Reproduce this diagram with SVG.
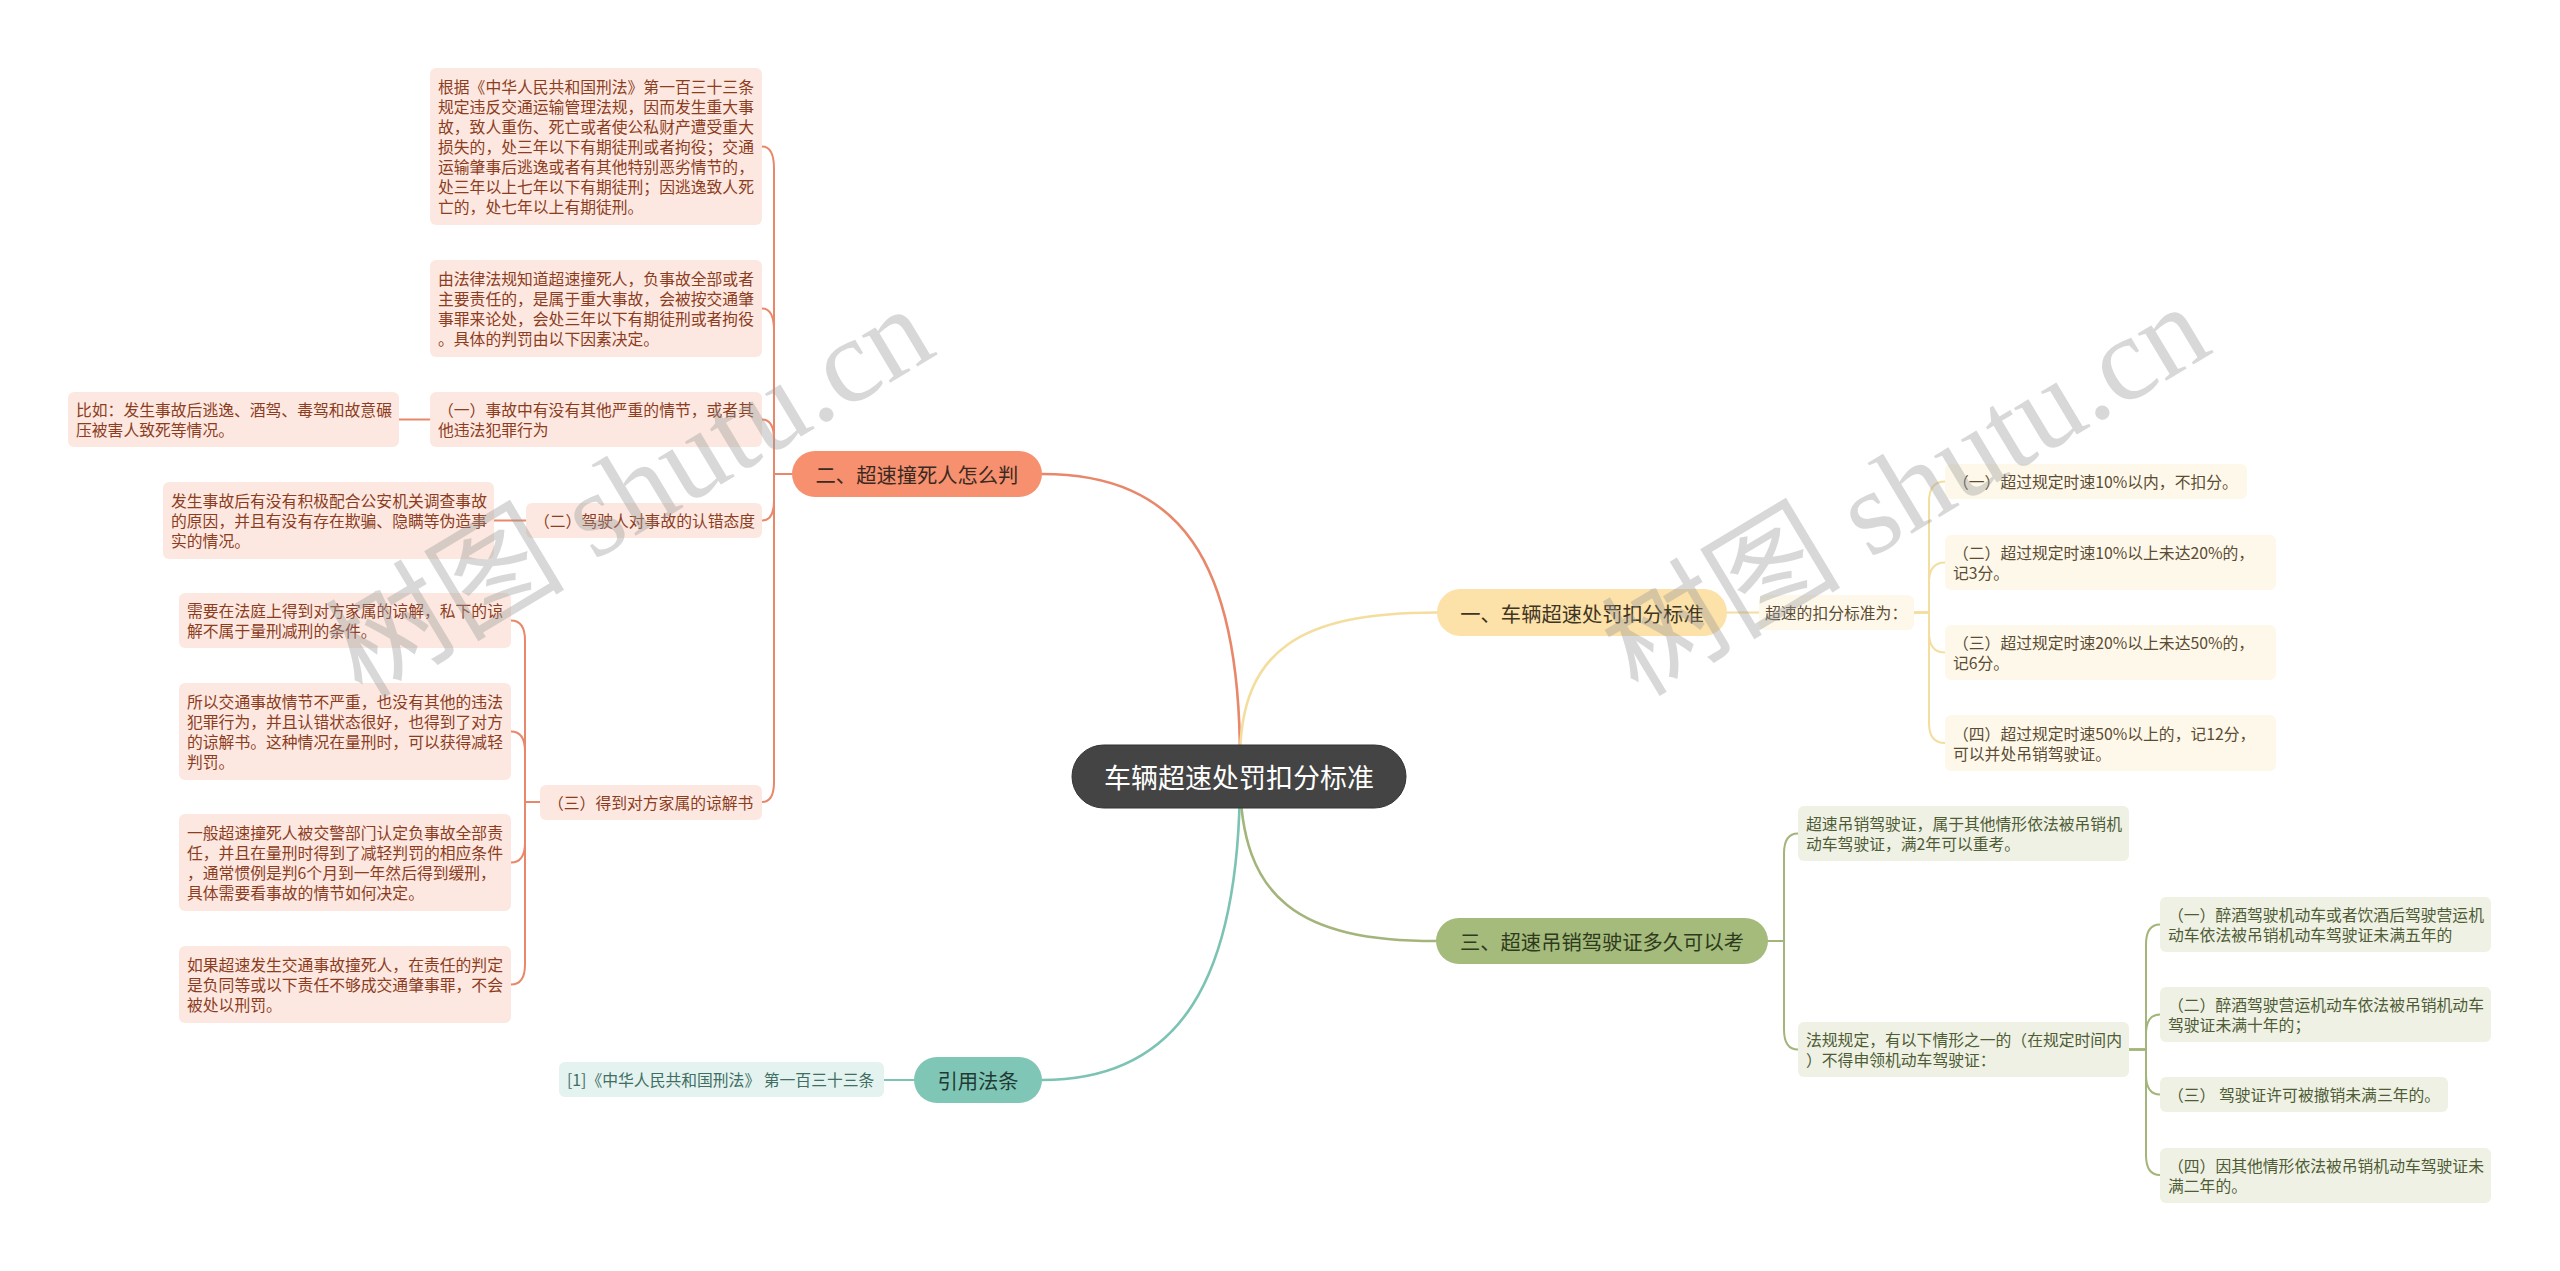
<svg xmlns="http://www.w3.org/2000/svg" width="2560" height="1271" viewBox="0 0 2560 1271">
<style>
text{font-family:"Noto Sans CJK SC","Noto Sans",sans-serif;dominant-baseline:central}
.t{font-size:15.8px}
.b{font-size:20.3px}
.red rect{fill:#FCE8E0}.red text{fill:#8C3D1F}
.yel rect{fill:#FEF8EA}.yel text{fill:#5B4C33}
.grn rect{fill:#EEF1E3}.grn text{fill:#4F5C36}
.tea rect{fill:#E4F3EF}.tea text{fill:#3F6E64}
.con{fill:none;stroke-linecap:round;stroke-linejoin:round}
.cr{stroke:#E8876A}.cy{stroke:#F4DE9F}.cg{stroke:#A3B57A}.ct{stroke:#7CC3B3}
.main{stroke-width:2.6}.sub{stroke-width:2}
.wm{font-family:"Liberation Serif","Noto Sans CJK SC",serif;font-size:120px;fill:#9a9a9a;opacity:0.38}
</style>
<rect width="2560" height="1271" fill="#ffffff"/>
<g id="connectors">
<path class="con cr main" d="M1240,760 C1240,560 1180,474 1042,474"/>
<path class="con cy main" d="M1240,760 C1240,650 1300,612.5 1437,612.5"/>
<path class="con cg main" d="M1240,776 C1240,900 1300,941 1436,941"/>
<path class="con ct main" d="M1240,776 C1240,980 1180,1080 1042,1080"/>
<path class="con cr sub" d="M792,474 H774 V168.5 Q774,146.5 762,146.5"/>
<path class="con cr sub" d="M792,474 H774 V330.5 Q774,308.5 762,308.5"/>
<path class="con cr sub" d="M792,474 H774 V439.5 Q774,419.5 762,419.5"/>
<path class="con cr sub" d="M792,474 H774 V500.5 Q774,520.5 762,520.5"/>
<path class="con cr sub" d="M792,474 H774 V782 Q774,802 762,802"/>
<path class="con cr sub" d="M399,419.5 H430"/>
<path class="con cr sub" d="M494,520.5 H526"/>
<path class="con cr sub" d="M540,802 H525 V640.5 Q525,620.5 511,620.5"/>
<path class="con cr sub" d="M540,802 H525 V751.5 Q525,731.5 511,731.5"/>
<path class="con cr sub" d="M540,802 H525 V842.5 Q525,862.5 511,862.5"/>
<path class="con cr sub" d="M540,802 H525 V964.5 Q525,984.5 511,984.5"/>
<path class="con ct sub" d="M884,1080 H914"/>
<path class="con cy sub" d="M1727,612.5 H1759"/>
<path class="con cy sub" d="M1914,612.5 H1929 V501.5 Q1929,481.5 1945,481.5"/>
<path class="con cy sub" d="M1914,612.5 H1929 V582.5 Q1929,562.5 1945,562.5"/>
<path class="con cy sub" d="M1914,612.5 H1929 V632.5 Q1929,652.5 1945,652.5"/>
<path class="con cy sub" d="M1914,612.5 H1929 V723 Q1929,743 1945,743"/>
<path class="con cg sub" d="M1768,941 H1784 V853.5 Q1784,833.5 1798,833.5"/>
<path class="con cg sub" d="M1768,941 H1784 V1029.5 Q1784,1049.5 1798,1049.5"/>
<path class="con cg sub" d="M2129,1049.5 H2146 V944.5 Q2146,924.5 2160,924.5"/>
<path class="con cg sub" d="M2129,1049.5 H2146 V1034.5 Q2146,1014.5 2160,1014.5"/>
<path class="con cg sub" d="M2129,1049.5 H2146 V1074.5 Q2146,1094.5 2160,1094.5"/>
<path class="con cg sub" d="M2129,1049.5 H2146 V1155 Q2146,1175 2160,1175"/>
</g>
<g id="center">
<rect x="1072" y="745" width="334" height="63" rx="31.5" fill="#444444" stroke="#333333" stroke-width="1"/>
<text x="1239" y="776.5" text-anchor="middle" font-size="27" fill="#ffffff">车辆超速处罚扣分标准</text>
</g>
<g id="b2">
<rect x="792" y="451" width="250" height="46" rx="23" fill="#F7906F"/>
<text class="b" x="917" y="474" text-anchor="middle" fill="#3A2A22">二、超速撞死人怎么判</text>
</g>
<g id="b1">
<rect x="1437" y="589" width="290" height="47" rx="23.5" fill="#FCE1A8"/>
<text class="b" x="1582" y="612.5" text-anchor="middle" fill="#3F3524">一、车辆超速处罚扣分标准</text>
</g>
<g id="b3">
<rect x="1436" y="918" width="332" height="46" rx="23" fill="#A4BB7C"/>
<text class="b" x="1602" y="941" text-anchor="middle" fill="#2F3A1C">三、超速吊销驾驶证多久可以考</text>
</g>
<g id="b4">
<rect x="914" y="1057" width="128" height="46" rx="23" fill="#7FC6B6"/>
<text class="b" x="978" y="1080" text-anchor="middle" fill="#1F3A33">引用法条</text>
</g>
<g id="nA" class="red">
<rect x="430" y="68" width="332" height="157" rx="6"/>
<text class="t" x="438" y="86.5">根据《中华人民共和国刑法》第一百三十三条</text>
<text class="t" x="438" y="106.5">规定违反交通运输管理法规，因而发生重大事</text>
<text class="t" x="438" y="126.5">故，致人重伤、死亡或者使公私财产遭受重大</text>
<text class="t" x="438" y="146.5">损失的，处三年以下有期徒刑或者拘役；交通</text>
<text class="t" x="438" y="166.5">运输肇事后逃逸或者有其他特别恶劣情节的，</text>
<text class="t" x="438" y="186.5">处三年以上七年以下有期徒刑；因逃逸致人死</text>
<text class="t" x="438" y="206.5">亡的，处七年以上有期徒刑。</text>
</g>
<g id="nB" class="red">
<rect x="430" y="260" width="332" height="97" rx="6"/>
<text class="t" x="438" y="278.5">由法律法规知道超速撞死人，负事故全部或者</text>
<text class="t" x="438" y="298.5">主要责任的，是属于重大事故，会被按交通肇</text>
<text class="t" x="438" y="318.5">事罪来论处，会处三年以下有期徒刑或者拘役</text>
<text class="t" x="438" y="338.5">。具体的判罚由以下因素决定。</text>
</g>
<g id="nC" class="red">
<rect x="68" y="392" width="331" height="55" rx="6"/>
<text class="t" x="76" y="409.5">比如：发生事故后逃逸、酒驾、毒驾和故意碾</text>
<text class="t" x="76" y="429.5">压被害人致死等情况。</text>
</g>
<g id="nD" class="red">
<rect x="430" y="392" width="332" height="55" rx="6"/>
<text class="t" x="438" y="409.5">（一）事故中有没有其他严重的情节，或者其</text>
<text class="t" x="438" y="429.5">他违法犯罪行为</text>
</g>
<g id="nE" class="red">
<rect x="526" y="503" width="236" height="35" rx="6"/>
<text class="t" x="534" y="520.5">（二）驾驶人对事故的认错态度</text>
</g>
<g id="nF" class="red">
<rect x="163" y="482" width="331" height="77" rx="6"/>
<text class="t" x="171" y="500.5">发生事故后有没有积极配合公安机关调查事故</text>
<text class="t" x="171" y="520.5">的原因，并且有没有存在欺骗、隐瞒等伪造事</text>
<text class="t" x="171" y="540.5">实的情况。</text>
</g>
<g id="nG" class="red">
<rect x="540" y="785" width="222" height="35" rx="6"/>
<text class="t" x="548" y="802.5">（三）得到对方家属的谅解书</text>
</g>
<g id="nH1" class="red">
<rect x="179" y="593" width="332" height="55" rx="6"/>
<text class="t" x="187" y="610.5">需要在法庭上得到对方家属的谅解，私下的谅</text>
<text class="t" x="187" y="630.5">解不属于量刑减刑的条件。</text>
</g>
<g id="nH2" class="red">
<rect x="179" y="683" width="332" height="97" rx="6"/>
<text class="t" x="187" y="701.5">所以交通事故情节不严重，也没有其他的违法</text>
<text class="t" x="187" y="721.5">犯罪行为，并且认错状态很好，也得到了对方</text>
<text class="t" x="187" y="741.5">的谅解书。这种情况在量刑时，可以获得减轻</text>
<text class="t" x="187" y="761.5">判罚。</text>
</g>
<g id="nH3" class="red">
<rect x="179" y="814" width="332" height="97" rx="6"/>
<text class="t" x="187" y="832.5">一般超速撞死人被交警部门认定负事故全部责</text>
<text class="t" x="187" y="852.5">任，并且在量刑时得到了减轻判罚的相应条件</text>
<text class="t" x="187" y="872.5">，通常惯例是判6个月到一年然后得到缓刑，</text>
<text class="t" x="187" y="892.5">具体需要看事故的情节如何决定。</text>
</g>
<g id="nH4" class="red">
<rect x="179" y="946" width="332" height="77" rx="6"/>
<text class="t" x="187" y="964.5">如果超速发生交通事故撞死人，在责任的判定</text>
<text class="t" x="187" y="984.5">是负同等或以下责任不够成交通肇事罪，不会</text>
<text class="t" x="187" y="1004.5">被处以刑罚。</text>
</g>
<g id="nCite" class="tea">
<rect x="559" y="1062" width="325" height="35" rx="6"/>
<text class="t" x="567" y="1079.5">[1]《中华人民共和国刑法》 第一百三十三条</text>
</g>
<g id="nK" class="yel">
<rect x="1759" y="595" width="155" height="35" rx="6"/>
<text class="t" x="1765" y="612.5">超速的扣分标准为：</text>
</g>
<g id="nL1" class="yel">
<rect x="1945" y="464" width="302" height="35" rx="6"/>
<text class="t" x="1953" y="481.5">（一）超过规定时速10%以内，不扣分。</text>
</g>
<g id="nL2" class="yel">
<rect x="1945" y="535" width="331" height="55" rx="6"/>
<text class="t" x="1953" y="552.5">（二）超过规定时速10%以上未达20%的，</text>
<text class="t" x="1953" y="572.5">记3分。</text>
</g>
<g id="nL3" class="yel">
<rect x="1945" y="625" width="331" height="55" rx="6"/>
<text class="t" x="1953" y="642.5">（三）超过规定时速20%以上未达50%的，</text>
<text class="t" x="1953" y="662.5">记6分。</text>
</g>
<g id="nL4" class="yel">
<rect x="1945" y="715" width="331" height="56" rx="6"/>
<text class="t" x="1953" y="733">（四）超过规定时速50%以上的，记12分，</text>
<text class="t" x="1953" y="753">可以并处吊销驾驶证。</text>
</g>
<g id="nM1" class="grn">
<rect x="1798" y="806" width="331" height="55" rx="6"/>
<text class="t" x="1806" y="823.5">超速吊销驾驶证，属于其他情形依法被吊销机</text>
<text class="t" x="1806" y="843.5">动车驾驶证，满2年可以重考。</text>
</g>
<g id="nM2" class="grn">
<rect x="1798" y="1022" width="331" height="55" rx="6"/>
<text class="t" x="1806" y="1039.5">法规规定，有以下情形之一的（在规定时间内</text>
<text class="t" x="1806" y="1059.5">）不得申领机动车驾驶证：</text>
</g>
<g id="nN1" class="grn">
<rect x="2160" y="897" width="331" height="55" rx="6"/>
<text class="t" x="2168" y="914.5">（一）醉酒驾驶机动车或者饮酒后驾驶营运机</text>
<text class="t" x="2168" y="934.5">动车依法被吊销机动车驾驶证未满五年的</text>
</g>
<g id="nN2" class="grn">
<rect x="2160" y="987" width="331" height="55" rx="6"/>
<text class="t" x="2168" y="1004.5">（二）醉酒驾驶营运机动车依法被吊销机动车</text>
<text class="t" x="2168" y="1024.5">驾驶证未满十年的；</text>
</g>
<g id="nN3" class="grn">
<rect x="2160" y="1077" width="288" height="35" rx="6"/>
<text class="t" x="2168" y="1094.5">（三） 驾驶证许可被撤销未满三年的。</text>
</g>
<g id="nN4" class="grn">
<rect x="2160" y="1148" width="331" height="55" rx="6"/>
<text class="t" x="2168" y="1165.5">（四）因其他情形依法被吊销机动车驾驶证未</text>
<text class="t" x="2168" y="1185.5">满二年的。</text>
</g>
<g id="watermarks">
<text class="wm" x="362" y="700" transform="rotate(-31 362 700)" style="dominant-baseline:alphabetic">树图 shutu.cn</text>
<text class="wm" x="1638" y="698" transform="rotate(-31 1638 698)" style="dominant-baseline:alphabetic">树图 shutu.cn</text>
</g>
</svg>
